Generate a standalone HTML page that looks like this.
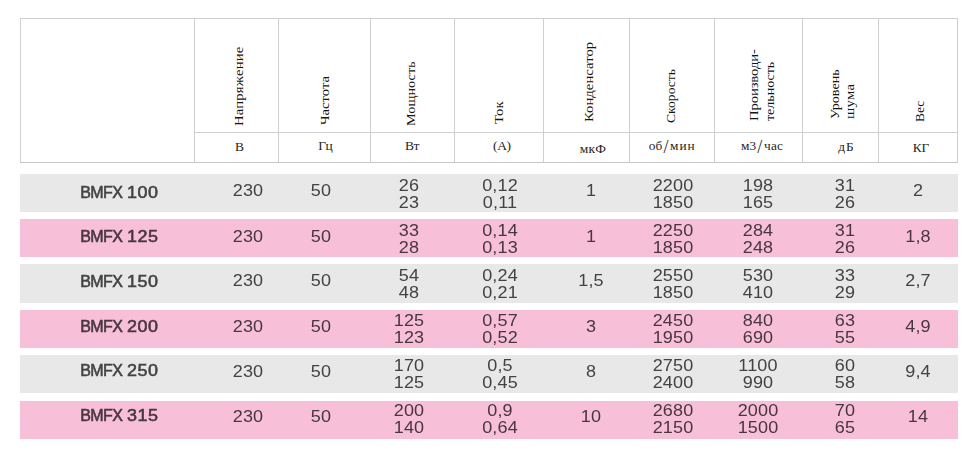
<!DOCTYPE html>
<html><head><meta charset="utf-8"><title>BMFX</title>
<style>
html,body{margin:0;padding:0;background:#fff;}
body{width:970px;height:453px;position:relative;overflow:hidden;font-family:"Liberation Sans",sans-serif;}
.ln{position:absolute;background:#cdcfd3;}
.h{position:absolute;font-family:"Liberation Serif",serif;font-size:14.67px;line-height:16px;color:#151515;white-space:nowrap;transform-origin:0 0;}
.u{position:absolute;font-family:"Liberation Serif",serif;color:#262626;white-space:nowrap;transform:translateX(-50%);line-height:16px;height:16px;}
.sl{font-size:18px;margin:0 1.6px 0 0.8px;position:relative;top:3.4px;line-height:1px;letter-spacing:0;}
.r{position:absolute;left:20px;width:938px;}
.g{background:#e8e8e8;}
.p{background:#f7bfd8;}
.c{position:absolute;transform:translateX(-50%) scaleX(1.06);text-align:center;white-space:nowrap;color:#444;font-size:17px;letter-spacing:0.12px;line-height:17.3px;}
.n{position:absolute;white-space:nowrap;color:#454545;font-size:16px;line-height:18px;-webkit-text-stroke:0.55px #454545;letter-spacing:-0.55px;}
.n b{font-weight:normal;display:inline-block;transform:scaleX(1.12);transform-origin:0 50%;letter-spacing:0.45px;margin-left:0.4px;}
#d{position:absolute;left:0;top:0;width:970px;height:453px;will-change:transform;}
</style></head><body>

<div class="ln" style="left:20px;top:18px;width:938px;height:1px"></div>
<div class="ln" style="left:20px;top:162px;width:938px;height:1px;background:#c5c7cb"></div>
<div class="ln" style="left:194px;top:132px;width:764px;height:1px"></div>
<div class="ln" style="left:20px;top:18px;width:1px;height:144px"></div>
<div class="ln" style="left:194px;top:18px;width:1px;height:144px"></div>
<div class="ln" style="left:278px;top:18px;width:1px;height:144px"></div>
<div class="ln" style="left:370px;top:18px;width:1px;height:144px"></div>
<div class="ln" style="left:454px;top:18px;width:1px;height:144px"></div>
<div class="ln" style="left:543px;top:18px;width:1px;height:144px"></div>
<div class="ln" style="left:629px;top:18px;width:1px;height:144px"></div>
<div class="ln" style="left:714px;top:18px;width:1px;height:144px"></div>
<div class="ln" style="left:802px;top:18px;width:1px;height:144px"></div>
<div class="ln" style="left:878px;top:18px;width:1px;height:144px"></div>
<div class="ln" style="left:957px;top:18px;width:1px;height:144px"></div>
<div class="h" style="left:231.30px;top:126.30px;letter-spacing:0.200px;transform:rotate(-90deg) scale(1,0.9)">Напряжение</div>
<div class="h" style="left:316.70px;top:125.40px;letter-spacing:0.000px;transform:rotate(-90deg) scale(1,0.9)">Частота</div>
<div class="h" style="left:402.80px;top:126.00px;letter-spacing:0.000px;transform:rotate(-90deg) scale(0.973,0.9)">Мощность</div>
<div class="h" style="left:491.10px;top:124.00px;letter-spacing:0.100px;transform:rotate(-90deg) scale(1,0.9)">Ток</div>
<div class="h" style="left:580.80px;top:122.00px;letter-spacing:0.040px;transform:rotate(-90deg) scale(1,0.9)">Конденсатор</div>
<div class="h" style="left:663.00px;top:123.00px;letter-spacing:0.000px;transform:rotate(-90deg) scale(0.93,0.9)">Скорость</div>
<div class="h" style="left:745.60px;top:121.40px;letter-spacing:-0.100px;transform:rotate(-90deg) scale(1,0.9)">Производи-</div>
<div class="h" style="left:762.10px;top:121.40px;letter-spacing:0.000px;transform:rotate(-90deg) scale(0.955,0.9)">тельность</div>
<div class="h" style="left:826.60px;top:119.30px;letter-spacing:0.000px;transform:rotate(-90deg) scale(0.962,0.9)">Уровень</div>
<div class="h" style="left:842.30px;top:119.30px;letter-spacing:0.300px;transform:rotate(-90deg) scale(1,0.9)">шума</div>
<div class="h" style="left:911.50px;top:122.00px;letter-spacing:0.000px;transform:rotate(-90deg) scale(0.91,0.9)">Вес</div>
<div class="u" style="left:239.60px;top:138.74px;font-size:13.5px;letter-spacing:0.000px">В</div>
<div class="u" style="left:325.20px;top:137.74px;font-size:13.5px;letter-spacing:-0.600px">Гц</div>
<div class="u" style="left:411.90px;top:137.74px;font-size:13.5px;letter-spacing:-0.600px">Вт</div>
<div class="u" style="left:501.90px;top:137.74px;font-size:13.5px;letter-spacing:-0.400px">(А)</div>
<div class="u" style="left:593.00px;top:140.74px;font-size:13.5px;letter-spacing:0.300px">мкФ</div>
<div class="u" style="left:672.20px;top:137.80px;font-size:13.33px;letter-spacing:0.250px">об<span class=sl>/</span><span style="letter-spacing:1.0px">мин</span></div>
<div class="u" style="left:762.10px;top:137.80px;font-size:13.33px;letter-spacing:0.250px">м3<span class=sl>/</span>час</div>
<div class="u" style="left:846.40px;top:138.80px;font-size:13.33px;letter-spacing:0.900px">дБ</div>
<div class="u" style="left:920.85px;top:139.80px;font-size:13.33px;letter-spacing:-0.300px">КГ</div>
<div id="d">
<div class="r g" style="top:174px;height:38px"></div>
<div class="n" style="left:80.2px;top:184.4px;color:#434343;-webkit-text-stroke-color:#434343">BMFX <b>100</b></div>
<div class="c" style="left:247.54999999999998px;top:182.1px;color:#434343;-webkit-text-stroke-color:#434343">230</div>
<div class="c" style="left:321.45000000000005px;top:182.1px;color:#434343;-webkit-text-stroke-color:#434343">50</div>
<div class="c" style="left:408.85px;top:176.60px;color:#434343;-webkit-text-stroke-color:#434343">26<br>23</div>
<div class="c" style="left:499.75px;top:176.60px;color:#434343;-webkit-text-stroke-color:#434343">0,12<br>0,11</div>
<div class="c" style="left:590.95px;top:182.1px;color:#434343;-webkit-text-stroke-color:#434343">1</div>
<div class="c" style="left:673.35px;top:176.60px;color:#434343;-webkit-text-stroke-color:#434343">2200<br>1850</div>
<div class="c" style="left:757.65px;top:176.60px;color:#434343;-webkit-text-stroke-color:#434343">198<br>165</div>
<div class="c" style="left:845.35px;top:176.60px;color:#434343;-webkit-text-stroke-color:#434343">31<br>26</div>
<div class="c" style="left:918.35px;top:182.1px;color:#434343;-webkit-text-stroke-color:#434343">2</div>
<div class="r p" style="top:219px;height:38px"></div>
<div class="n" style="left:80.2px;top:228.4px;color:#48373f;-webkit-text-stroke-color:#48373f">BMFX <b>125</b></div>
<div class="c" style="left:247.54999999999998px;top:228.1px;color:#48373f;-webkit-text-stroke-color:#48373f">230</div>
<div class="c" style="left:321.45000000000005px;top:228.1px;color:#48373f;-webkit-text-stroke-color:#48373f">50</div>
<div class="c" style="left:408.85px;top:221.60px;color:#48373f;-webkit-text-stroke-color:#48373f">33<br>28</div>
<div class="c" style="left:499.75px;top:221.60px;color:#48373f;-webkit-text-stroke-color:#48373f">0,14<br>0,13</div>
<div class="c" style="left:590.95px;top:228.1px;color:#48373f;-webkit-text-stroke-color:#48373f">1</div>
<div class="c" style="left:673.35px;top:221.60px;color:#48373f;-webkit-text-stroke-color:#48373f">2250<br>1850</div>
<div class="c" style="left:757.65px;top:221.60px;color:#48373f;-webkit-text-stroke-color:#48373f">284<br>248</div>
<div class="c" style="left:845.35px;top:221.60px;color:#48373f;-webkit-text-stroke-color:#48373f">31<br>26</div>
<div class="c" style="left:918.35px;top:228.1px;color:#48373f;-webkit-text-stroke-color:#48373f">1,8</div>
<div class="r g" style="top:264px;height:39px"></div>
<div class="n" style="left:80.2px;top:273.4px;color:#434343;-webkit-text-stroke-color:#434343">BMFX <b>150</b></div>
<div class="c" style="left:247.54999999999998px;top:272.1px;color:#434343;-webkit-text-stroke-color:#434343">230</div>
<div class="c" style="left:321.45000000000005px;top:272.1px;color:#434343;-webkit-text-stroke-color:#434343">50</div>
<div class="c" style="left:408.85px;top:266.60px;color:#434343;-webkit-text-stroke-color:#434343">54<br>48</div>
<div class="c" style="left:499.75px;top:266.60px;color:#434343;-webkit-text-stroke-color:#434343">0,24<br>0,21</div>
<div class="c" style="left:590.95px;top:272.1px;color:#434343;-webkit-text-stroke-color:#434343">1,5</div>
<div class="c" style="left:673.35px;top:266.60px;color:#434343;-webkit-text-stroke-color:#434343">2550<br>1850</div>
<div class="c" style="left:757.65px;top:266.60px;color:#434343;-webkit-text-stroke-color:#434343">530<br>410</div>
<div class="c" style="left:845.35px;top:266.60px;color:#434343;-webkit-text-stroke-color:#434343">33<br>29</div>
<div class="c" style="left:918.35px;top:272.1px;color:#434343;-webkit-text-stroke-color:#434343">2,7</div>
<div class="r p" style="top:310px;height:38px"></div>
<div class="n" style="left:80.2px;top:318.4px;color:#48373f;-webkit-text-stroke-color:#48373f">BMFX <b>200</b></div>
<div class="c" style="left:247.54999999999998px;top:318.1px;color:#48373f;-webkit-text-stroke-color:#48373f">230</div>
<div class="c" style="left:321.45000000000005px;top:318.1px;color:#48373f;-webkit-text-stroke-color:#48373f">50</div>
<div class="c" style="left:408.85px;top:311.60px;color:#48373f;-webkit-text-stroke-color:#48373f">125<br>123</div>
<div class="c" style="left:499.75px;top:311.60px;color:#48373f;-webkit-text-stroke-color:#48373f">0,57<br>0,52</div>
<div class="c" style="left:590.95px;top:318.1px;color:#48373f;-webkit-text-stroke-color:#48373f">3</div>
<div class="c" style="left:673.35px;top:311.60px;color:#48373f;-webkit-text-stroke-color:#48373f">2450<br>1950</div>
<div class="c" style="left:757.65px;top:311.60px;color:#48373f;-webkit-text-stroke-color:#48373f">840<br>690</div>
<div class="c" style="left:845.35px;top:311.60px;color:#48373f;-webkit-text-stroke-color:#48373f">63<br>55</div>
<div class="c" style="left:918.35px;top:318.1px;color:#48373f;-webkit-text-stroke-color:#48373f">4,9</div>
<div class="r g" style="top:355px;height:38px"></div>
<div class="n" style="left:80.2px;top:362.4px;color:#434343;-webkit-text-stroke-color:#434343">BMFX <b>250</b></div>
<div class="c" style="left:247.54999999999998px;top:363.1px;color:#434343;-webkit-text-stroke-color:#434343">230</div>
<div class="c" style="left:321.45000000000005px;top:363.1px;color:#434343;-webkit-text-stroke-color:#434343">50</div>
<div class="c" style="left:408.85px;top:356.60px;color:#434343;-webkit-text-stroke-color:#434343">170<br>125</div>
<div class="c" style="left:499.75px;top:356.60px;color:#434343;-webkit-text-stroke-color:#434343">0,5<br>0,45</div>
<div class="c" style="left:590.95px;top:363.1px;color:#434343;-webkit-text-stroke-color:#434343">8</div>
<div class="c" style="left:673.35px;top:356.60px;color:#434343;-webkit-text-stroke-color:#434343">2750<br>2400</div>
<div class="c" style="left:757.65px;top:356.60px;color:#434343;-webkit-text-stroke-color:#434343">1100<br>990</div>
<div class="c" style="left:845.35px;top:356.60px;color:#434343;-webkit-text-stroke-color:#434343">60<br>58</div>
<div class="c" style="left:918.35px;top:363.1px;color:#434343;-webkit-text-stroke-color:#434343">9,4</div>
<div class="r p" style="top:401px;height:38px"></div>
<div class="n" style="left:80.2px;top:407.4px;color:#48373f;-webkit-text-stroke-color:#48373f">BMFX <b>315</b></div>
<div class="c" style="left:247.54999999999998px;top:408.1px;color:#48373f;-webkit-text-stroke-color:#48373f">230</div>
<div class="c" style="left:321.45000000000005px;top:408.1px;color:#48373f;-webkit-text-stroke-color:#48373f">50</div>
<div class="c" style="left:408.85px;top:401.60px;color:#48373f;-webkit-text-stroke-color:#48373f">200<br>140</div>
<div class="c" style="left:499.75px;top:401.60px;color:#48373f;-webkit-text-stroke-color:#48373f">0,9<br>0,64</div>
<div class="c" style="left:590.95px;top:408.1px;color:#48373f;-webkit-text-stroke-color:#48373f">10</div>
<div class="c" style="left:673.35px;top:401.60px;color:#48373f;-webkit-text-stroke-color:#48373f">2680<br>2150</div>
<div class="c" style="left:757.65px;top:401.60px;color:#48373f;-webkit-text-stroke-color:#48373f">2000<br>1500</div>
<div class="c" style="left:845.35px;top:401.60px;color:#48373f;-webkit-text-stroke-color:#48373f">70<br>65</div>
<div class="c" style="left:918.35px;top:408.1px;color:#48373f;-webkit-text-stroke-color:#48373f">14</div>
</div>
</body></html>
